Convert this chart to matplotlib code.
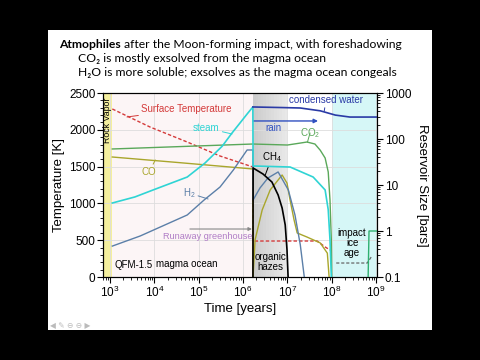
import numpy as np
import matplotlib.pyplot as plt
from matplotlib.patches import Rectangle
from matplotlib.ticker import MultipleLocator, LogLocator, FixedLocator, NullFormatter

plt.rcParams.update({
    "font.family": ["Liberation Sans", "DejaVu Sans"],
    "mathtext.fontset": "custom",
    "mathtext.rm": "Liberation Sans",
    "mathtext.it": "Liberation Sans:italic",
    "mathtext.bf": "Liberation Sans:bold",
    "mathtext.default": "regular",
})

# ── data (log10 of time in years) ────────────────────────────────────────────
temp_logt = [3.05, 3.90, 4.74, 5.48, 6.22, 6.225, 7.67, 7.85, 7.96]
temp_K    = [2283, 2038, 1834, 1644, 1495, 489, 489, 408, 367]

ice_logt = [8.10, 8.80, 8.89]
ice_K    = [190, 190, 272]

steam_logt = [3.05, 3.56, 3.97, 4.74, 5.14, 5.53, 5.75, 5.93, 6.09, 6.22,
              6.225, 7.06, 7.58, 7.85, 7.92, 7.96, 7.99]
steam_bar  = [4.06, 5.5, 7.8, 14.9, 30, 70, 135, 223, 349, 497,
              25.9, 24.6, 14.9, 7.8, 2.9, 0.64, 0.1]

water_logt = [6.22, 6.90, 7.29, 7.74, 8.08, 8.41, 9.02]
water_bar  = [497, 482, 472, 410, 331, 300, 300]

co2_logt = [3.05, 4.50, 6.22, 7.00, 7.29, 7.44, 7.62, 7.74, 7.85, 7.92, 7.96, 7.99, 8.00]
co2_bar  = [60.7, 68, 77.8, 74, 81.6, 86, 77.8, 57, 38.6, 19.2, 4.7, 0.64, 0.1]

co2_late_logt = [8.82, 8.84, 9.02]
co2_late_bar  = [0.1, 1.0, 1.0]

co_logt = [3.05, 4.50, 6.22, 6.225, 6.27, 6.43, 6.61, 6.88, 6.99, 7.06, 7.15,
           7.22, 7.44, 7.74, 7.90, 7.94]
co_bar  = [40.6, 31, 22.3, 0.1, 0.64, 2.86, 7.8, 16.5, 11, 4.7, 1.73,
           0.905, 0.74, 0.55, 0.33, 0.1]

h2_logt = [3.05, 3.68, 4.74, 5.12, 5.48, 5.78, 6.09, 6.22,
           6.225, 6.38, 6.56, 6.79, 7.02, 7.17, 7.29, 7.38]
h2_bar  = [0.47, 0.78, 2.23, 4.72, 9.05, 21.2, 57.7, 57.7,
           4.72, 8.6, 14.2, 19.2, 7.8, 2.23, 0.50, 0.1]

ch4_logt = [6.222, 6.226, 6.45, 6.65, 6.79, 6.88, 6.95, 6.99, 7.015]
ch4_bar  = [0.1, 23.4, 17.3, 11.6, 6.06, 3.16, 1.35, 0.39, 0.1]

RED, CYAN, NAVY = "#d43a3a", "#2fd4d4", "#2a3aa6"
GREEN, OLIVE, STEEL = "#5aa85a", "#a9a62c", "#5b7fa8"
TITLE_FONT = ["Lato", "DejaVu Sans"]

# ── figure / slide ───────────────────────────────────────────────────────────
fig = plt.figure(figsize=(4.8, 3.6), dpi=100, facecolor="black")
fig.add_artist(Rectangle((48 / 480, 30 / 360), 384 / 480, 300 / 360,
                         transform=fig.transFigure, fc="white", ec="none", zorder=0))

ttl = fig.text(59 / 480, 1 - 44 / 360, "Atmophiles", fontsize=8.7, fontweight="bold",
               family=TITLE_FONT, va="center")
fig.canvas.draw()
bb = ttl.get_window_extent(fig.canvas.get_renderer())
fig.text(bb.x1 / 480 + 0.006, 1 - 44 / 360, "after the Moon-forming impact, with foreshadowing",
         fontsize=8.7, family=TITLE_FONT, va="center")
fig.text(78 / 480, 1 - 58.5 / 360, "CO₂ is mostly exsolved from the magma ocean",
         fontsize=8.7, family=TITLE_FONT, va="center")
fig.text(78 / 480, 1 - 73 / 360, "H₂O is more soluble; exsolves as the magma ocean congeals",
         fontsize=8.7, family=TITLE_FONT, va="center")
fig.text(50 / 480, 1 - 326 / 360, "◀ ✎ ⊖ ⊖ ▶", fontsize=5.5, color="#bbbbbb",
         family=["DejaVu Sans"], va="center")

ax = fig.add_axes([103 / 480, 83 / 360, 274 / 480, 184 / 360])
ax.set_xscale("log")
ax.set_xlim(10 ** 2.84, 10 ** 9.02)
ax.set_ylim(0, 2500)

# background regions
ax.axvspan(10 ** 2.84, 10 ** 3.05, color="#f4ef9e", zorder=0.2, lw=0)
ax.axvspan(10 ** 3.05, 10 ** 6.22, color="#fcf5f6", zorder=0.2, lw=0)
steps = np.linspace(6.22, 7.0, 14)
for i in range(len(steps) - 1):
    g = 0.80 + 0.11 * i / (len(steps) - 2)
    ax.axvspan(10 ** steps[i], 10 ** steps[i + 1], color=(g, g, g), zorder=0.2, lw=0)
ax.axvspan(10 ** 8.0, 10 ** 9.02, color="#d6f7f7", zorder=0.2, lw=0)

ax.grid(True, which="major", color="#dddddd", lw=0.6)
ax.set_axisbelow(True)

ax.plot(10 ** np.array(temp_logt), temp_K, color=RED, lw=1.0, ls=(0, (2.5, 1.5)))
ax.plot(10 ** np.array(ice_logt), ice_K, color="#666666", lw=0.9, ls=(0, (2.5, 1.5)))

ax2 = ax.twinx()
ax2.set_yscale("log")
ax2.set_ylim(0.1, 1000)
ax2.plot(10 ** np.array(co_logt), co_bar, color=OLIVE, lw=1.0)
ax2.plot(10 ** np.array(h2_logt), h2_bar, color=STEEL, lw=1.0)
ax2.plot(10 ** np.array(co2_logt), co2_bar, color=GREEN, lw=1.0)
ax2.plot(10 ** np.array(co2_late_logt), co2_late_bar, color="#2fb070", lw=1.0)
ax2.plot(10 ** np.array(steam_logt), steam_bar, color=CYAN, lw=1.2)
ax2.plot(10 ** np.array(water_logt), water_bar, color=NAVY, lw=1.2)
ax2.plot(10 ** np.array(ch4_logt), ch4_bar, color="black", lw=1.2)

# ticks
ax.xaxis.set_major_locator(LogLocator(base=10, numticks=20))
ax.xaxis.set_minor_locator(LogLocator(base=10, subs=np.arange(2, 10), numticks=50))
ax.xaxis.set_minor_formatter(NullFormatter())
ax.yaxis.set_major_locator(MultipleLocator(500))
ax.yaxis.set_minor_locator(MultipleLocator(100))
ax2.yaxis.set_major_locator(FixedLocator([0.1, 1, 10, 100, 1000]))
ax2.set_yticklabels(["0.1", "1", "10", "100", "1000"])
ax2.yaxis.set_minor_locator(LogLocator(base=10, subs=np.arange(2, 10), numticks=50))
ax2.yaxis.set_minor_formatter(NullFormatter())
for a in (ax, ax2):
    a.tick_params(which="major", length=4, width=0.8, labelsize=8.5, pad=1.5)
    a.tick_params(which="minor", length=2, width=0.6)
    for s in a.spines.values():
        s.set_linewidth(0.8)

ax.set_xlabel("Time [years]", fontsize=9.5, labelpad=2)
ax.set_ylabel("Temperature [K]", fontsize=9.5, labelpad=3)
ax2.set_ylabel("Reservoir Size [bars]", fontsize=9.5, rotation=270, labelpad=12)

# annotations (left-axis coordinates: time, K)
def note(txt, xy, xyt, color, **kw):
    ax.annotate(txt, xy=(10 ** xy[0], xy[1]), xytext=(10 ** xyt[0], xyt[1]),
                color=color, fontsize=7, ha=kw.pop("ha", "center"), va="center",
                arrowprops=dict(arrowstyle="-", color=color, lw=0.7,
                                shrinkA=0, shrinkB=0), zorder=5, **kw)

note("Surface Temperature", (3.38, 2174), (3.70, 2283), RED, ha="left")
note("steam", (5.75, 1943), (5.17, 2024), CYAN)
note("CO", (4.02, 1590), (3.88, 1427), OLIVE)
note("H$_2$", (5.21, 1060), (4.78, 1141), STEEL)
note("condensed water", (7.83, 2255), (7.87, 2405), NAVY)
note("CO$_2$", (7.45, 1830), (7.51, 1957), GREEN)
note("CH$_4$", (6.50, 1386), (6.65, 1630), "black")

ax.annotate("", xy=(10 ** 7.69, 2120), xytext=(10 ** 6.226, 2120),
            arrowprops=dict(arrowstyle="-|>", color="#3050c0", lw=1.0,
                            mutation_scale=6, shrinkA=0, shrinkB=0))
ax.text(10 ** 6.68, 2030, "rain", color="#3050c0", fontsize=7, ha="center", va="center")
ax.annotate("", xy=(10 ** 6.20, 652), xytext=(10 ** 4.80, 652),
            arrowprops=dict(arrowstyle="-|>", color="#888888", lw=0.8,
                            mutation_scale=5, shrinkA=0, shrinkB=0))
ax.text(10 ** 5.21, 557, "Runaway greenhouse", color="#b07cc6", fontsize=6.6,
        ha="center", va="center")

ax.text(10 ** 2.935, 2133, "Rock Vapor", rotation=90, fontsize=6.3, ha="center", va="center")
ax.text(10 ** 3.11, 163, "QFM-1.5", fontsize=7, ha="left", va="center")
ax.text(10 ** 4.74, 177, "magma ocean", fontsize=7, ha="center", va="center")
ax.text(10 ** 6.61, 204, "organic\nhazes", fontsize=7, ha="center", va="center",
        linespacing=1.05)
ax.text(10 ** 8.46, 462, "impact\nice\nage", fontsize=7, ha="center", va="center",
        linespacing=1.05)

fig.savefig("out.png", dpi=100, facecolor="black")
